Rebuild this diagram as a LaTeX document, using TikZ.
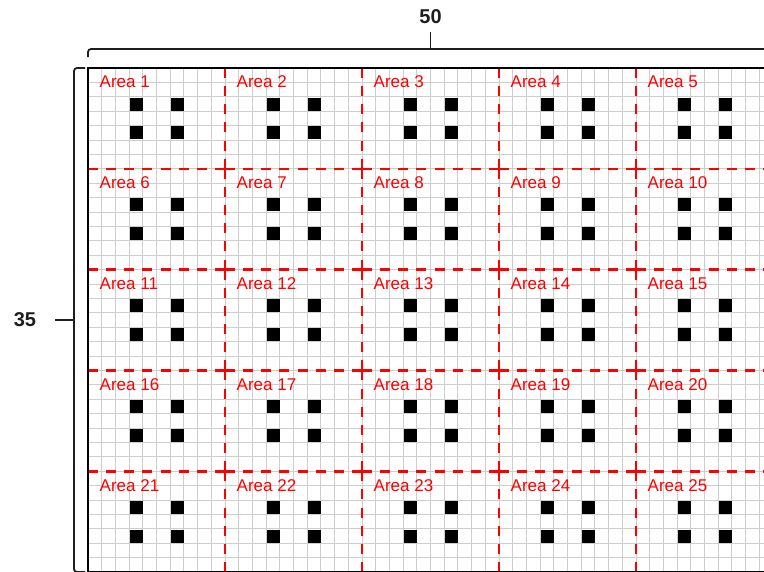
\documentclass[tikz,border=0pt]{standalone}
\usepackage{fontspec}
\setmainfont{Liberation Sans}
\definecolor{gridgray}{RGB}{205,205,205}
\definecolor{bracketcol}{RGB}{30,30,30}
\begin{document}
\begin{tikzpicture}[x=1pt,y=-1pt,
  gridline/.style={draw=gridgray, line width=1pt},
  areabox/.style={draw=red, line width=2.6pt, dash pattern=on 10pt off 8.15pt},
  border/.style={draw=black, line width=2.5pt},
  bracket/.style={draw=bracketcol, line width=1.8pt, rounded corners=3pt},
  arealabel/.style={text=red, font=\fontsize{17}{17}\selectfont, anchor=west, inner sep=0pt},
  dimlabel/.style={font=\bfseries\fontsize{20}{20}\selectfont, inner sep=0pt, text=bracketcol},
  blk/.style={fill=black}
]
\useasboundingbox (0,0) rectangle (764,571);
\clip (0,0) rectangle (764,571);
% grid
\foreach \i in {0,...,50} \draw[gridline] (88+\i*13.7,68) -- (88+\i*13.7,572);
\foreach \j in {0,...,35} \draw[gridline] (88,68+\j*14.4) -- (773,68+\j*14.4);
% black squares
\foreach \r in {0,...,4} {
  \foreach \c in {0,...,4} {
    \pgfmathsetmacro\xl{88+\c*137}
    \pgfmathsetmacro\yt{68+\r*100.8}
    \foreach \cc in {3,6} {
      \foreach \rr in {2,4} {
        \fill[blk] (\xl+\cc*13.7+0.8,\yt+\rr*14.4+0.8) rectangle ++(12.6,13.0);
      }
    }
  }
}
% dashed areas
\foreach \r in {0,...,4} {
  \foreach \c in {0,...,4} {
    \pgfmathsetmacro\xl{88+\c*137}
    \pgfmathsetmacro\yt{68+\r*100.8}
    \pgfmathsetmacro\xr{\xl+137}
    \pgfmathsetmacro\yb{\yt+100.8}
    \draw[areabox] (\xl,\yt) -- (\xr,\yt);
    \draw[areabox] (\xl,\yt) -- (\xl,\yb);
    \draw[areabox] (\xr,\yt) -- (\xr,\yb);
    \draw[areabox] (\xl,\yb) -- (\xr,\yb);
  }
}
% labels
\foreach \r in {0,...,4} {
  \foreach \c in {0,...,4} {
    \pgfmathsetmacro\xl{88+\c*137}
    \pgfmathsetmacro\yt{68+\r*100.8}
    \pgfmathtruncatemacro\n{\r*5+\c+1}
    \node[arealabel] (area\n) at (\xl+11.5,\yt+14) {Area \n};
  }
}
% outer border
\draw[border] (88,572) -- (88,68) -- (773,68) -- (773,572) -- cycle;
% dimension brackets
\coordinate (tl) at (88,57);
\coordinate (tr) at (773,57);
\coordinate (tmid) at (430.5,49);
\coordinate (ttick) at (430.5,32);
\draw[bracket] (tl) -- (88,49) -- (773,49) -- (tr);
\draw[bracket] (tmid) -- (ttick);
\node[dimlabel] (w50) at (430.5,17) {50};
\coordinate (lt) at (85,68);
\coordinate (lb) at (85,572);
\coordinate (lmid) at (74,320);
\coordinate (ltick) at (55,320);
\draw[bracket] (lt) -- (74,68) -- (74,572) -- (lb);
\draw[bracket] (lmid) -- (ltick);
\node[dimlabel] (h35) at (25,320) {35};
\end{tikzpicture}
\end{document}
